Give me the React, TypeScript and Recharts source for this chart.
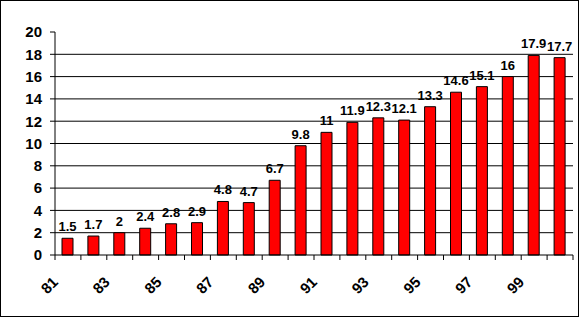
import { BarChart, Bar, XAxis, YAxis, CartesianGrid, LabelList } from 'recharts';

const years = ['81', '82', '83', '84', '85', '86', '87', '88', '89', '90', '91', '92', '93', '94', '95', '96', '97', '98', '99', '00'];
const values = [1.5, 1.7, 2, 2.4, 2.8, 2.9, 4.8, 4.7, 6.7, 9.8, 11, 11.9, 12.3, 12.1, 13.3, 14.6, 15.1, 16, 17.9, 17.7];
const yTicks = [0, 2, 4, 6, 8, 10, 12, 14, 16, 18, 20];
const gridValues = [2, 4, 6, 8, 10, 12, 14, 16, 18];

const data = years.map((year, i) => ({ year, value: values[i] }));

const font = 'Arial, "Liberation Sans", sans-serif';
const W = 579;
const H = 317;
const M = { top: 32, right: 6, left: 55 };
const band = (W - M.left - M.right) / years.length;

function YearTick({ x, y, payload, index }: any) {
  const left = x - band / 2;
  const px = x - 9;
  const py = y + 28;
  return (
    <g>
      <line x1={left} x2={left} y1={y} y2={y + 5} stroke="#000" />
      {index === years.length - 1 && (
        <line x1={left + band} x2={left + band} y1={y} y2={y + 5} stroke="#000" />
      )}
      {index % 2 === 0 && (
        <text x={px} y={py} transform={`rotate(-45, ${px}, ${py})`} textAnchor="end"
          fontFamily={font} fontSize={15} fontWeight="bold" fill="#000">
          {payload.value}
        </text>
      )}
    </g>
  );
}

export default function App() {
  return (
    <div style={{ position: 'absolute', left: 0, top: 0, width: W, height: H }}>
      <div style={{ position: 'absolute', left: 0, top: 0, width: W - 2, height: H - 2, border: '1px solid #000' }} />
      <BarChart width={W} height={H} data={data}
        margin={{ top: M.top, right: M.right, bottom: 0, left: 0 }} barCategoryGap={0}>
        <CartesianGrid horizontal vertical={false} stroke="#000" horizontalValues={gridValues} />
        <XAxis dataKey="year" interval={0} tickLine={false} tickSize={0} tickMargin={0}
          axisLine={{ stroke: '#000' }} height={62} tick={<YearTick />} />
        <YAxis domain={[0, 20]} ticks={yTicks} interval={0} width={M.left} tickSize={5} tickMargin={8}
          axisLine={{ stroke: '#000' }} tickLine={{ stroke: '#000' }}
          tick={{ fontFamily: font, fontSize: 15, fontWeight: 'bold', fill: '#000' }} />
        <Bar dataKey="value" fill="#FF0000" stroke="#000" strokeWidth={1} barSize={11} isAnimationActive={false}>
          <LabelList dataKey="value" position="top" offset={7} fontFamily={font} fontSize={13}
            fontWeight="bold" fill="#000" />
        </Bar>
      </BarChart>
    </div>
  );
}
